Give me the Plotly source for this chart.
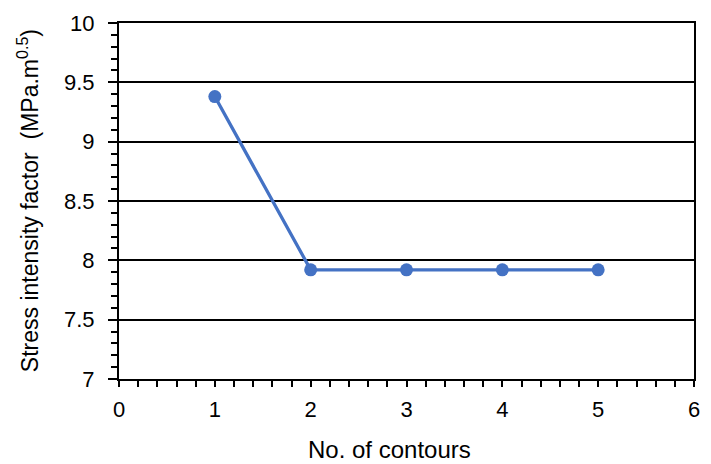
import plotly.graph_objects as go

contours = [1, 2, 3, 4, 5]
sif = [9.38, 7.92, 7.92, 7.92, 7.92]

x_ticks = [0, 1, 2, 3, 4, 5, 6]
y_ticks = [7, 7.5, 8, 8.5, 9, 9.5, 10]

blue = "#4472C4"
font = "Liberation Sans, Arial, sans-serif"
fsize = 22

fig = go.Figure(
    go.Scatter(
        x=contours, y=sif, mode="lines+markers",
        line=dict(color=blue, width=3.3),
        marker=dict(color=blue, size=13),
        cliponaxis=False,
    )
)

axis_common = dict(
    showline=True, linecolor="black", linewidth=2, mirror=True,
    ticks="outside", tickcolor="black", tickwidth=2,
    tickfont=dict(family=font, size=fsize, color="black"),
    zeroline=False,
)

fig.update_xaxes(
    range=[0, 6], tickvals=x_ticks, ticklen=6, showgrid=False,
    ticklabelstandoff=4,
    minor=dict(dtick=0.2, ticks="outside", ticklen=6, tickcolor="black",
               tickwidth=2, showgrid=False),
    **axis_common,
)
fig.update_yaxes(
    range=[7, 10], tickvals=y_ticks, ticklen=9, ticklabelstandoff=9,
    showgrid=True, gridcolor="black", gridwidth=1.5,
    minor=dict(dtick=0.1, ticks="outside", ticklen=6, tickcolor="black",
               tickwidth=2, showgrid=False),
    **axis_common,
)

fig.update_layout(
    width=711, height=464,
    margin=dict(l=119, r=11, t=19, b=85),
    paper_bgcolor="white", plot_bgcolor="white",
    showlegend=False,
    annotations=[
        dict(text="No. of contours", xref="paper", yref="paper",
             x=0.47, y=-0.197, yanchor="middle", xanchor="center",
             showarrow=False, font=dict(family=font, size=24, color="black")),
        dict(text="Stress intensity factor  (MPa.m<sup>0.5</sup>)",
             xref="paper", yref="paper", x=-0.158, y=0.5, textangle=-90,
             xanchor="center", yanchor="middle", showarrow=False,
             font=dict(family=font, size=23, color="black")),
    ],
)

fig.write_html("out.html")
